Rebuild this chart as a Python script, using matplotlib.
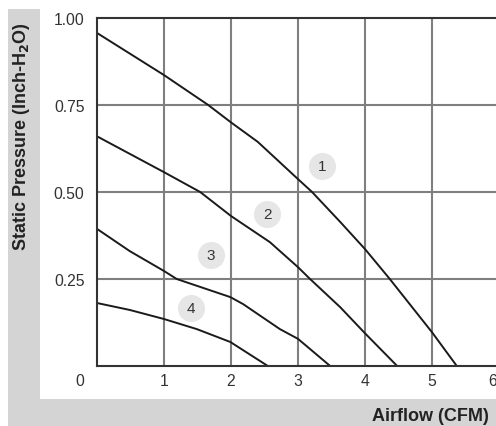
import matplotlib.pyplot as plt
from matplotlib.patches import Rectangle
import matplotlib.transforms as mtransforms

plt.rcParams['font.family'] = ['Liberation Sans', 'DejaVu Sans']

# fan curves: airflow (CFM) vs static pressure (inch H2O)
flow1 = [0, 1, 1.66, 2.0, 2.4, 3.0, 3.21, 3.63, 4.0, 4.37, 5.0, 5.37]
pres1 = [0.957, 0.836, 0.75, 0.70, 0.644, 0.537, 0.5, 0.414, 0.336, 0.25, 0.097, 0]

flow2 = [0, 1, 1.54, 2.0, 2.58, 3.0, 3.18, 3.63, 4.0, 4.48]
pres2 = [0.66, 0.557, 0.5, 0.431, 0.356, 0.284, 0.25, 0.169, 0.094, 0]

flow3 = [0, 0.49, 1.0, 1.19, 1.99, 2.18, 2.73, 3.0, 3.48]
pres3 = [0.394, 0.33, 0.273, 0.25, 0.198, 0.178, 0.106, 0.078, 0]

flow4 = [0, 0.49, 1.0, 1.49, 1.99, 2.55]
pres4 = [0.181, 0.161, 0.135, 0.106, 0.069, 0]

curves = [(flow1, pres1), (flow2, pres2), (flow3, pres3), (flow4, pres4)]
tags = ['1', '2', '3', '4']
tag_x = [3.36, 2.54, 1.70, 1.40]
tag_y = [0.575, 0.437, 0.319, 0.167]

xticks = [0, 1, 2, 3, 4, 5, 6]
yticks = [0.25, 0.5, 0.75, 1.0]
ylabels = ['0.25', '0.50', '0.75', '1.00']

fig = plt.figure(figsize=(4.96, 4.27), dpi=100)

# grey L-shaped frame behind the white plot panel
fig.patches.append(Rectangle((8 / 496, 0), 1, 1 - 10 / 427, transform=fig.transFigure,
                             facecolor='#d4d4d4', edgecolor='none', zorder=-2))
fig.patches.append(Rectangle((40 / 496, 27 / 427), 1, 1, transform=fig.transFigure,
                             facecolor='white', edgecolor='none', zorder=-1))

ax = fig.add_axes([97 / 496, 60 / 427, 402 / 496, 348 / 427])
ax.set_xlim(0, 6)
ax.set_ylim(0, 1)
ax.patch.set_alpha(0)

for x in xticks[1:]:
    ax.axvline(x, color='#7f7f80', lw=1.5, zorder=1)
for y in yticks[:-1]:
    ax.axhline(y, color='#7f7f80', lw=1.5, zorder=1)

for fx, py in curves:
    ax.plot(fx, py, color='#1a1a1a', lw=1.4, zorder=3, solid_capstyle='butt',
            solid_joinstyle='round')

ax.scatter(tag_x, tag_y, s=380, color='#e6e6e6', zorder=4, linewidths=0)
for t, x, y in zip(tags, tag_x, tag_y):
    ax.text(x, y, t, ha='center', va='center', fontsize=11, color='#333333', zorder=5)

for side in ['left', 'top', 'bottom']:
    ax.spines[side].set_color('#333333')
    ax.spines[side].set_linewidth(1.5)
    ax.spines[side].set_zorder(6)
ax.spines['right'].set_visible(False)

ax.set_yticks(yticks)
ax.set_yticklabels(ylabels)
ax.set_xticks([])
ax.tick_params(length=0, labelsize=11.3, colors='#333333')
ax.tick_params(axis='y', pad=9)

# x labels drawn by hand: the origin one sits out at the corner,
# the last one is pulled in from the figure edge
xlab_shift = {0: -0.25, 6: -0.1}
trans = mtransforms.blended_transform_factory(ax.transData, ax.transAxes)
for v in xticks:
    ax.text(v + xlab_shift.get(v, 0), -15 / 348, str(v), transform=trans,
            ha='center', va='center', fontsize=11.3, color='#333333', clip_on=False)

fig.text(22 / 496, 1 - 137 / 427, 'Static Pressure (Inch-H$_\\mathbf{2}$O)', rotation=90,
         ha='center', va='center', fontsize=13, fontweight='bold', color='#222222')
fig.text(489 / 496, 1 - 417 / 427, 'Airflow (CFM)', ha='right', va='center',
         fontsize=13, fontweight='bold', color='#222222')

fig.savefig('out.png', dpi=100, facecolor='white')
